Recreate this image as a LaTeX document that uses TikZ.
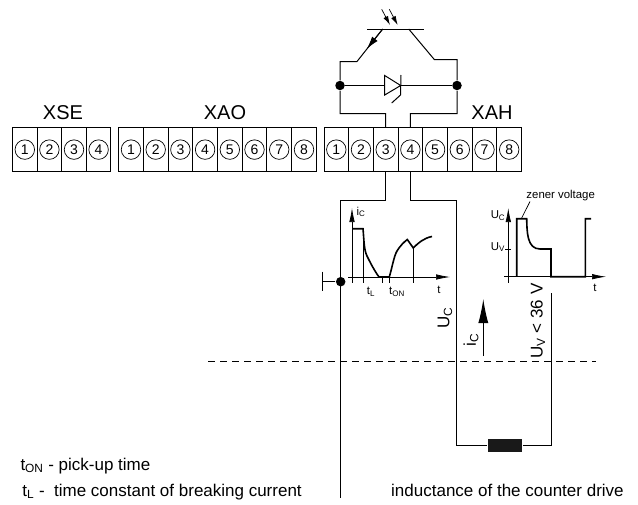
\documentclass[tikz,border=0pt]{standalone}
\usepackage{fontspec}
\setmainfont{Liberation Sans}
\usepackage{tikz}
\usetikzlibrary{arrows.meta}
\usetikzlibrary{positioning}
\usetikzlibrary{calc}
\tikzset{every picture/.style={line width=1pt},
  cell/.style={draw,minimum width=24.6pt,minimum height=44.2pt,inner sep=0pt,
    label={[pinno]center:#1}},
  pinno/.style={draw,circle,line width=0.7pt,minimum size=19.5pt,inner sep=0pt,font=\fontsize{14}{14}\selectfont},
  blockname/.style={font=\fontsize{20}{20}\selectfont},
  biglabel/.style={font=\fontsize{17}{17}\selectfont,rotate=90,inner sep=0pt},
  small/.style={font=\fontsize{11.4}{12}\selectfont,inner sep=0pt},
  legend/.style={font=\fontsize{17}{18}\selectfont,inner sep=0pt,anchor=base west},
  junction/.style={circle,fill=black,minimum size=9.5pt,inner sep=0pt},
  axis/.style={-{Latex[length=14pt,width=5.5pt]},line width=0.7pt},
  curve/.style={line width=1.6pt},
  thin tick/.style={line width=0.7pt}}
\begin{document}
\begin{tikzpicture}[x=1pt,y=-1pt]
\useasboundingbox (0,0) rectangle (638,504);

\node (namexse) at (63,113) [blockname] {XSE};
\node (namexao) at (225,113) [blockname] {XAO};
\node (namexah) at (492,113) [blockname] {XAH};

\node (xse1) at (24.8,149.6) [cell=1] {};
\node (xse2) at (49.4,149.6) [cell=2] {};
\node (xse3) at (74,149.6) [cell=3] {};
\node (xse4) at (98.6,149.6) [cell=4] {};

\node (xao1) at (131,149.6) [cell=1] {};
\node (xao2) at (155.7,149.6) [cell=2] {};
\node (xao3) at (180.4,149.6) [cell=3] {};
\node (xao4) at (205.1,149.6) [cell=4] {};
\node (xao5) at (229.8,149.6) [cell=5] {};
\node (xao6) at (254.5,149.6) [cell=6] {};
\node (xao7) at (279.2,149.6) [cell=7] {};
\node (xao8) at (304,149.6) [cell=8] {};

\node (xah1) at (336.3,149.6) [cell=1] {};
\node (xah2) at (361,149.6) [cell=2] {};
\node (xah3) at (385.7,149.6) [cell=3] {};
\node (xah4) at (410.4,149.6) [cell=4] {};
\node (xah5) at (435.1,149.6) [cell=5] {};
\node (xah6) at (459.8,149.6) [cell=6] {};
\node (xah7) at (484.5,149.6) [cell=7] {};
\node (xah8) at (509.2,149.6) [cell=8] {};

% photo transistor
\coordinate (bl) at (367,29);
\coordinate (br) at (424,29);
\coordinate (el) at (382.7,29);
\coordinate (cr) at (408.7,29);
\coordinate (kl) at (357,61.5);
\coordinate (kr) at (434.3,59.5);
\node (jl) at (340,85.5) [junction] {};
\node (jr) at (457,85.5) [junction] {};
\coordinate (tl) at (340,113.5);
\coordinate (tr) at (457,113.5);
\draw (bl) -- (br);
\draw (el) -- (kl) -- (kl -| jl) -- (jl) -- (tl) -| (xah3.north);
\draw (cr) -- (kr) -- (kr -| jr) -- (jr) -- (tr) -| (xah4.north);
\draw (jl) -- (jr);
\coordinate (hlt) at (366.7,49);
\draw [-{Latex[length=13pt,width=7pt]}] (el) -- (hlt);
\coordinate (la) at (381.7,9.3);
\coordinate (lb) at (389.3,9.3);
\coordinate (lc) at (390,25);
\coordinate (ld) at (397.7,25);
\draw [-{Latex[length=9pt,width=5pt]},line width=0.7pt] (la) -- (lc);
\draw [-{Latex[length=9pt,width=5pt]},line width=0.7pt] (lb) -- (ld);

% zener
\coordinate (za) at (384.7,75.5);
\coordinate (zb) at (384.7,95);
\coordinate (zc) at (400.7,85.5);
\draw [fill=white] (za) -- (zb) -- (zc) -- cycle;
\draw (401,75) -- (400.5,95) -- (391.7,103);

% lines to the counter drive
\coordinate (gnd) at (340.7,200.7);
\coordinate (pe) at (340.7,497.5);
\node (dot) at (340.7,281.7) [junction] {};
\coordinate (stub) at (322.3,281.7);
\draw (xah3.south) |- (gnd) -- (pe);
\draw (dot) -- (stub);
\draw ($(stub)+(0,-10)$) -- ($(stub)+(0,9)$);

\node (coil) at (505,445.7) [fill=black!90,minimum width=34.5pt,minimum height=13.5pt,inner sep=0pt] {};
\coordinate (up) at (456.7,200.7);
\coordinate (cl) at (456.7,445.7);
\coordinate (cr2) at (551,445.7);
\coordinate (uv) at (551,292.7);
\draw (xah4.south) |- (up) -- (cl) -- (coil.west);
\draw (coil.east) -- (cr2) -- (uv);

\coordinate (dl) at (208,361.7);
\coordinate (dr) at (596,361.7);
\draw [dashed,dash pattern=on 7pt off 5pt] (dl) -- (dr);

% current diagram
\coordinate (ia) at (352,282.7);
\coordinate (ib) at (352,208);
\coordinate (ic) at (348,277);
\coordinate (id) at (450,277);
\draw [axis] (ia) -- (ib);
\draw [axis] (ic) -- (id);
\draw [thin tick] (363,228.7) -- (363,283);
\draw [thin tick] (382,277) -- (382,283);
\draw [thin tick] (389.3,277) -- (389.3,283);
\draw [thin tick] (413.3,248) -- (413.3,283);
\draw [curve] (352,228.7) -- (363,228.7) .. controls (364,240) and (364,250) .. (367,256)
  .. controls (371,264) and (374,270) .. (379,277) -- (389.3,277)
  .. controls (392,268) and (394,256) .. (397,251) .. controls (400,246) and (404,242) .. (407.3,239.5)
  -- (413.3,248) .. controls (418,243) and (424,238) .. (432,236.5);
\node (lic) at (361,212) [small] {i\textsubscript{C}};
\node (ltl) at (371,291.5) [small] {t\textsubscript{L}};
\node (lton) at (397,291.5) [small] {t\textsubscript{ON}};
\node (lta) at (439,290) [small] {t};

% voltage diagram
\coordinate (va) at (508.3,282.7);
\coordinate (vb) at (508.3,208);
\coordinate (vc) at (504,276.7);
\coordinate (vd) at (606,276.7);
\draw [axis] (va) -- (vb);
\draw [axis] (vc) -- (vd);
\draw [thin tick] (505,249) -- (511,249);
\draw [curve] (516.7,276.7) -- (516.7,218.7) -- (526.7,218.7) .. controls (527,232) and (527,249) .. (540,249)
  -- (551,249) -- (551,276.7) -- (585.3,276.7) -- (585.3,218.7) -- (591,218.7);
\node (lzener) at (560.7,195.5) [small] {zener voltage};
\coordinate (lead) at (521.7,218);
\draw [thin tick] (530,201.5) -- (lead);
\node (luc) at (498,216) [small] {U\textsubscript{C}};
\node (luv) at (498,247) [small] {U\textsubscript{V}};
\node (ltb) at (595,288) [small] {t};

% labels at the lines
\node (bigu) at (445,318) [biglabel] {U\textsubscript{C}};
\node (bigi) at (471,340) [biglabel] {i\textsubscript{C}};
\node (bigv) at (538,321) [biglabel] {U\textsubscript{V} < 36 V};
\coordinate (ca) at (483.3,356);
\coordinate (cb) at (483.3,299);
\draw [-{Latex[length=24pt,width=10pt]}] (ca) -- (cb);

% legend
\node (lega) at (20,470) [legend] {t\textsubscript{ON} - pick-up time};
\node (legb) at (22,496) [legend] {t\textsubscript{L} -\ \ time constant of breaking current};
\node (legc) at (390.7,496) [legend] {inductance of the counter drive};
\end{tikzpicture}
\end{document}
